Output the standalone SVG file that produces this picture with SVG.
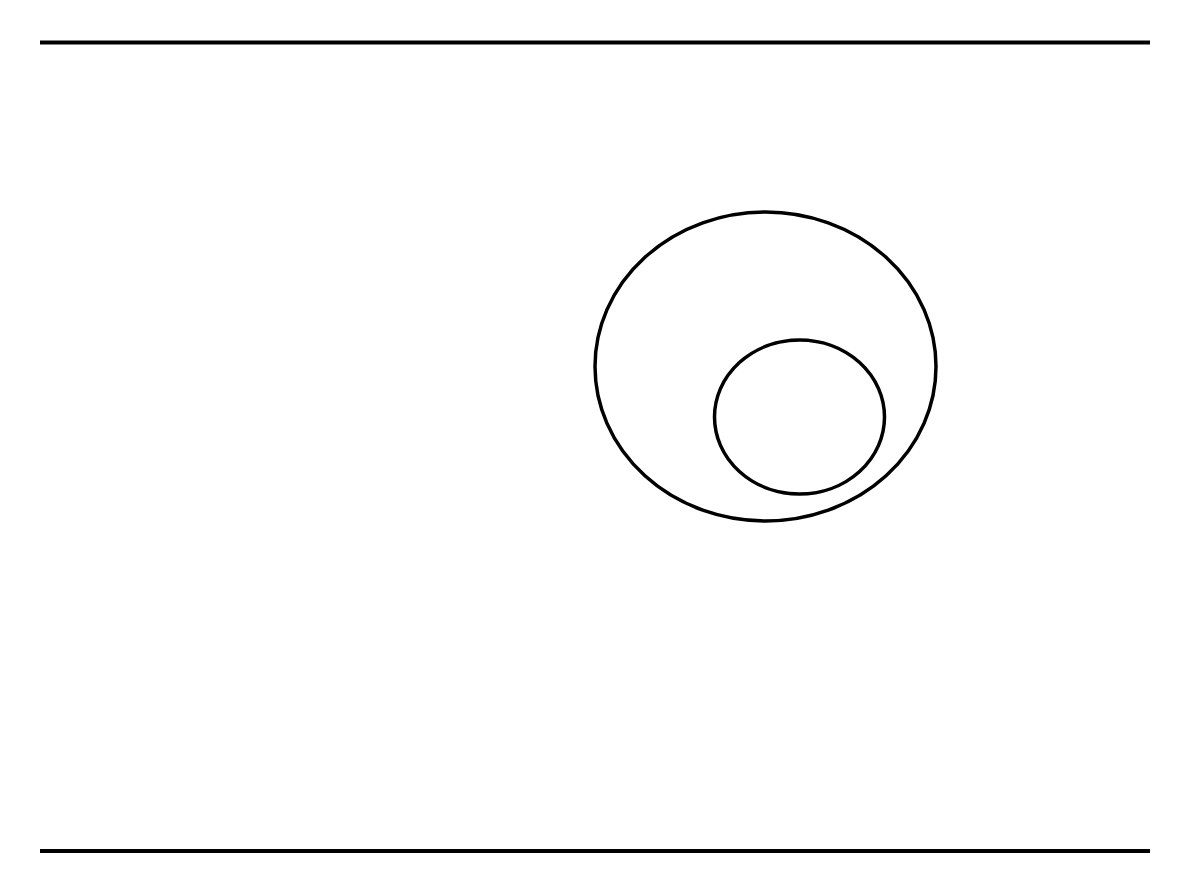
<svg xmlns="http://www.w3.org/2000/svg" width="1191" height="893" viewBox="0 0 1191 893">
<style>
.ln{stroke:#000;stroke-width:4;fill:none}
.sh{stroke:#000;stroke-width:3.5;fill:none}
</style>
<rect width="1191" height="893" fill="#fff"/>
<g id="rules">
<line class="ln" x1="40" y1="42.5" x2="1150" y2="42.5"/>
<line class="ln" x1="40" y1="851" x2="1150" y2="851"/>
</g>
<g id="outer"><ellipse class="sh" cx="765.5" cy="366.5" rx="170.5" ry="154.5"/></g>
<g id="inner"><ellipse class="sh" cx="799.5" cy="417" rx="85" ry="77"/></g>
<g id="connectors"/>
</svg>
